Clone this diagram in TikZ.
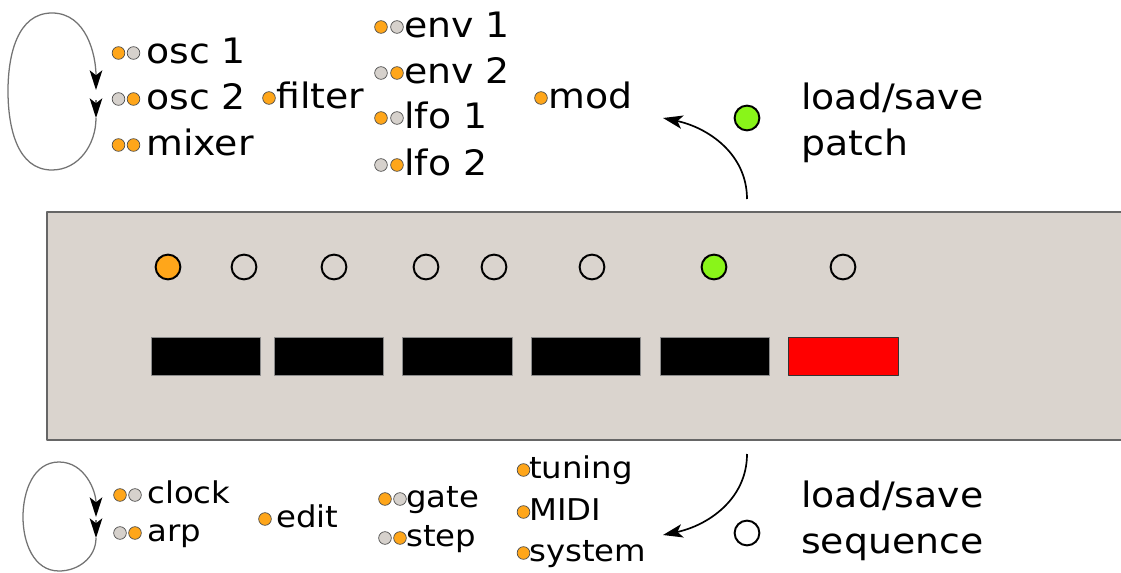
\documentclass[tikz,border=0pt]{standalone}
\usepackage{fontspec}
\setmainfont{DejaVu Sans}[FakeStretch=1.08]
\usetikzlibrary{arrows.meta}
\definecolor{ledorange}{RGB}{255,166,26}
\definecolor{ledgreen}{RGB}{137,245,25}
\definecolor{ledoff}{RGB}{214,209,204}
\definecolor{panel}{RGB}{218,212,206}

\begin{document}
\begin{tikzpicture}[x=0.025cm, y=-0.025cm,
    bigtext/.style={anchor=base west, inner sep=0pt, font=\fontsize{24.9}{30}\selectfont},
    smalltext/.style={anchor=base west, inner sep=0pt, font=\fontsize{21.3}{26}\selectfont},
    dot/.style={circle, draw=black!70, line width=0.5pt, inner sep=0pt, minimum size=9pt},
    ledlamp/.style={circle, draw=black, line width=1.4pt, inner sep=0pt, minimum size=17.6pt},
    keybox/.style={rectangle, draw=black!45, fill=black, line width=0.6pt, inner sep=0pt,
      minimum width=78pt, minimum height=27pt},
    cycleline/.style={black!55, line width=0.9pt,
      -{Stealth[length=14pt, width=9pt, inset=3.5pt, black]}},
    flowline/.style={black, line width=1.2pt,
      -{Stealth[length=14pt, width=9.5pt, inset=3.5pt]}},
  line join=round]

  \useasboundingbox (0,0) rectangle (1121,573);

  % Panel
  \fill [panel] (47,212) rectangle (1121,440);
  \draw [black!60, line width=1.4pt] (1121,212) -- (47,212) -- (47,440) -- (1121,440);

  % LEDs
  \foreach \x/\c [count=\i] in {168/ledorange, 244/panel, 334/panel, 426/panel,
      494/panel, 592/panel, 714/ledgreen, 843/panel}{
    \node [ledlamp, fill=\c] (led\i) at (\x,267) {};
  }

  % Keys
  \foreach \x [count=\i] in {206,329,457.5,586,715}{
    \node [keybox] (key\i) at (\x,356.5) {};
  }
  \node [keybox, fill=red, draw=black!80, line width=1pt] (key6) at (843.5,356.5) {};

  % Top menus
  \foreach \n/\y/\ca/\cb/\t in {osc1/63/ledorange/ledoff/osc 1,
      osc2/109/ledoff/ledorange/osc 2, mixer/155/ledorange/ledorange/mixer}{
    \node [dot, fill=\ca] at (118.5,\y-10) {};
    \node [dot, fill=\cb] at (133.5,\y-10) {};
    \node [bigtext] (\n) at (146,\y) {\t};
  }
  \node [dot, fill=ledorange] at (269,98) {};
  \node [bigtext] (filter) at (276,108) {filter};
  \foreach \n/\y/\ca/\cb/\t in {env1/37/ledorange/ledoff/env 1,
      env2/83/ledoff/ledorange/env 2, lfo1/128/ledorange/ledoff/lfo 1,
      lfo2/175/ledoff/ledorange/lfo 2}{
    \node [dot, fill=\ca] at (381,\y-10) {};
    \node [dot, fill=\cb] at (397,\y-10) {};
    \node [bigtext] (\n) at (404,\y) {\t};
  }
  \node [dot, fill=ledorange] at (541,98) {};
  \node [bigtext] (mod) at (548,108) {mod};

  % Bottom menus
  \foreach \n/\y/\ca/\cb/\t in {clock/503/ledorange/ledoff/clock,
      arp/541/ledoff/ledorange/arp}{
    \node [dot, fill=\ca] at (120,\y-8) {};
    \node [dot, fill=\cb] at (135,\y-8) {};
    \node [smalltext] (\n) at (147,\y) {\t};
  }
  \node [dot, fill=ledorange] at (265,519) {};
  \node [smalltext] (edit) at (276,527) {edit};
  \foreach \n/\y/\ca/\cb/\t in {gate/507/ledorange/ledoff/gate,
      step/546/ledoff/ledorange/step}{
    \node [dot, fill=\ca] at (385,\y-8) {};
    \node [dot, fill=\cb] at (400,\y-8) {};
    \node [smalltext] (\n) at (406,\y) {\t};
  }
  \foreach \n/\y/\t in {tuning/478/tuning, midi/520/MIDI, system/561/system}{
    \node [dot, fill=ledorange] at (523.5,\y-8) {};
    \node [smalltext] (\n) at (529,\y) {\t};
  }

  % Load/save
  \node [ledlamp, fill=ledgreen] (patchled) at (747,118) {};
  \node [bigtext] (patch) at (801,109) {load/save};
  \node [bigtext] (patchb) at (801,155) {patch};
  \node [ledlamp, fill=white] (seqled) at (747,533) {};
  \node [bigtext] (seq) at (801,507) {load/save};
  \node [bigtext] (seqb) at (801,553) {sequence};

  % Arrows
  \coordinate (patchfrom) at (747,199);
  \coordinate (patchto) at (663,118);
  \coordinate (seqfrom) at (747,454);
  \coordinate (seqto) at (663,535);
  \draw [flowline] (patchfrom) to [out=90, in=-12] (patchto);
  \draw [flowline] (seqfrom) to [out=-90, in=12] (seqto);

  % Cycles
  \coordinate (topa) at (96,100);
  \coordinate (topb) at (96,118);
  \coordinate (topc) at (96,90);
  \draw [cycleline] (topb) to [out=-90, in=0] (52,170) to [out=180, in=-90] (8,91)
    to [out=90, in=180] (52,13) to [out=0, in=90] (topc);
  \draw [cycleline] (topa) -- (topb);
  \coordinate (bota) at (96,520);
  \coordinate (botb) at (96,538);
  \coordinate (botc) at (96,517);
  \draw [cycleline] (botb) to [out=-90, in=0] (59,571) to [out=180, in=-90] (23,517)
    to [out=90, in=180] (59,462) to [out=0, in=90] (botc);
  \draw [cycleline] (bota) -- (botb);

\end{tikzpicture}
\end{document}
